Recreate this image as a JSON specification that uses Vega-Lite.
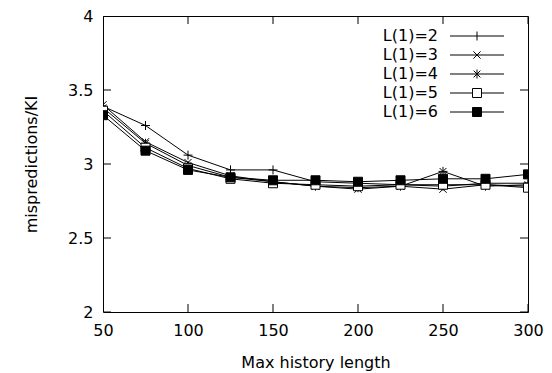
{
  "$schema": "https://vega.github.io/schema/vega-lite/v6.json",
  "width": 425,
  "height": 296,
  "autosize": {"type": "none"},
  "padding": {"left": 103, "top": 16, "right": 24, "bottom": 61},
  "background": "white",
  "config": {
    "view": {"stroke": "black", "strokeWidth": 1},
    "font": "DejaVu Sans",
    "axis": {
      "labelFont": "DejaVu Sans",
      "labelFontSize": 16,
      "labelColor": "black",
      "titleFont": "DejaVu Sans",
      "titleFontSize": 16,
      "titleFontWeight": "normal",
      "titleColor": "black",
      "grid": false,
      "labelFlush": false,
      "labelOverlap": false
    }
  },
  "datasets": {
    "xticks": [
      {"t": 50, "edge": 2}, {"t": 100, "edge": 2}, {"t": 150, "edge": 2}, {"t": 200, "edge": 2}, {"t": 250, "edge": 2}, {"t": 300, "edge": 2},
      {"t": 50, "edge": 4}, {"t": 100, "edge": 4}, {"t": 150, "edge": 4}, {"t": 200, "edge": 4}, {"t": 250, "edge": 4}, {"t": 300, "edge": 4}
    ],
    "yticks": [
      {"t": 2, "edge": 50}, {"t": 2.5, "edge": 50}, {"t": 3, "edge": 50}, {"t": 3.5, "edge": 50}, {"t": 4, "edge": 50},
      {"t": 2, "edge": 300}, {"t": 2.5, "edge": 300}, {"t": 3, "edge": 300}, {"t": 3.5, "edge": 300}, {"t": 4, "edge": 300}
    ],
    "mp": [
      {"len": 50, "mpki": 3.39, "s": "L(1)=2"},
      {"len": 75, "mpki": 3.26, "s": "L(1)=2"},
      {"len": 100, "mpki": 3.06, "s": "L(1)=2"},
      {"len": 125, "mpki": 2.96, "s": "L(1)=2"},
      {"len": 150, "mpki": 2.96, "s": "L(1)=2"},
      {"len": 175, "mpki": 2.88, "s": "L(1)=2"},
      {"len": 200, "mpki": 2.87, "s": "L(1)=2"},
      {"len": 225, "mpki": 2.86, "s": "L(1)=2"},
      {"len": 250, "mpki": 2.85, "s": "L(1)=2"},
      {"len": 275, "mpki": 2.87, "s": "L(1)=2"},
      {"len": 300, "mpki": 2.87, "s": "L(1)=2"},
      {"len": 50, "mpki": 3.40, "s": "L(1)=3"},
      {"len": 75, "mpki": 3.15, "s": "L(1)=3"},
      {"len": 100, "mpki": 3.01, "s": "L(1)=3"},
      {"len": 125, "mpki": 2.92, "s": "L(1)=3"},
      {"len": 150, "mpki": 2.88, "s": "L(1)=3"},
      {"len": 175, "mpki": 2.85, "s": "L(1)=3"},
      {"len": 200, "mpki": 2.83, "s": "L(1)=3"},
      {"len": 225, "mpki": 2.85, "s": "L(1)=3"},
      {"len": 250, "mpki": 2.83, "s": "L(1)=3"},
      {"len": 275, "mpki": 2.86, "s": "L(1)=3"},
      {"len": 300, "mpki": 2.85, "s": "L(1)=3"},
      {"len": 50, "mpki": 3.38, "s": "L(1)=4"},
      {"len": 75, "mpki": 3.14, "s": "L(1)=4"},
      {"len": 100, "mpki": 2.99, "s": "L(1)=4"},
      {"len": 125, "mpki": 2.91, "s": "L(1)=4"},
      {"len": 150, "mpki": 2.88, "s": "L(1)=4"},
      {"len": 175, "mpki": 2.85, "s": "L(1)=4"},
      {"len": 200, "mpki": 2.84, "s": "L(1)=4"},
      {"len": 225, "mpki": 2.85, "s": "L(1)=4"},
      {"len": 250, "mpki": 2.95, "s": "L(1)=4"},
      {"len": 275, "mpki": 2.85, "s": "L(1)=4"},
      {"len": 300, "mpki": 2.86, "s": "L(1)=4"},
      {"len": 50, "mpki": 3.36, "s": "L(1)=5"},
      {"len": 75, "mpki": 3.11, "s": "L(1)=5"},
      {"len": 100, "mpki": 2.97, "s": "L(1)=5"},
      {"len": 125, "mpki": 2.90, "s": "L(1)=5"},
      {"len": 150, "mpki": 2.87, "s": "L(1)=5"},
      {"len": 175, "mpki": 2.86, "s": "L(1)=5"},
      {"len": 200, "mpki": 2.85, "s": "L(1)=5"},
      {"len": 225, "mpki": 2.86, "s": "L(1)=5"},
      {"len": 250, "mpki": 2.86, "s": "L(1)=5"},
      {"len": 275, "mpki": 2.86, "s": "L(1)=5"},
      {"len": 300, "mpki": 2.84, "s": "L(1)=5"},
      {"len": 50, "mpki": 3.33, "s": "L(1)=6"},
      {"len": 75, "mpki": 3.09, "s": "L(1)=6"},
      {"len": 100, "mpki": 2.96, "s": "L(1)=6"},
      {"len": 125, "mpki": 2.91, "s": "L(1)=6"},
      {"len": 150, "mpki": 2.89, "s": "L(1)=6"},
      {"len": 175, "mpki": 2.89, "s": "L(1)=6"},
      {"len": 200, "mpki": 2.88, "s": "L(1)=6"},
      {"len": 225, "mpki": 2.89, "s": "L(1)=6"},
      {"len": 250, "mpki": 2.90, "s": "L(1)=6"},
      {"len": 275, "mpki": 2.90, "s": "L(1)=6"},
      {"len": 300, "mpki": 2.93, "s": "L(1)=6"}
    ]
  },
  "layer": [
    {
      "data": {"name": "mp"},
      "mark": {"type": "line", "color": "black", "strokeWidth": 1, "clip": true},
      "encoding": {
        "x": {"field": "len", "type": "quantitative",
              "scale": {"domain": [50, 300], "nice": false, "zero": false},
              "axis": {"orient": "bottom", "values": [50, 100, 150, 200, 250, 300], "domain": false, "ticks": false, "labelPadding": 10, "title": "Max history length", "titlePadding": 16}},
        "y": {"field": "mpki", "type": "quantitative",
              "scale": {"domain": [2, 4], "nice": false, "zero": false},
              "axis": {"orient": "left", "values": [2, 2.5, 3, 3.5, 4], "format": "~g", "domain": false, "ticks": false, "labelPadding": 10, "title": "mispredictions/KI", "titlePadding": 28}},
        "detail": {"field": "s"}
      }
    },
    {
      "data": {"name": "xticks"},
      "mark": {"type": "tick", "orient": "vertical", "size": 16, "thickness": 1, "color": "black", "opacity": 1, "clip": true},
      "encoding": {
        "x": {"field": "t", "type": "quantitative", "axis": null},
        "y": {"field": "edge", "type": "quantitative", "axis": null}
      }
    },
    {
      "data": {"name": "yticks"},
      "mark": {"type": "tick", "orient": "horizontal", "size": 16, "thickness": 1, "color": "black", "opacity": 1, "clip": true},
      "encoding": {
        "x": {"field": "edge", "type": "quantitative", "axis": null},
        "y": {"field": "t", "type": "quantitative", "axis": null}
      }
    },
    {
      "data": {"name": "mp"},
      "mark": {"type": "point", "filled": false, "stroke": "black", "strokeWidth": 1, "opacity": 1, "clip": true},
      "encoding": {
        "x": {"field": "len", "type": "quantitative", "axis": null},
        "y": {"field": "mpki", "type": "quantitative", "axis": null},
        "size": {"value": 81},
        "shape": {"field": "s", "legend": null,
                  "scale": {"domain": ["L(1)=2", "L(1)=3", "L(1)=4", "L(1)=5", "L(1)=6"],
                            "range": ["M-1,0H1M0,-1V1", "M-0.8,-0.8L0.8,0.8M-0.8,0.8L0.8,-0.8", "M-1,0H1M0,-1V1M-0.75,-0.75L0.75,0.75M-0.75,0.75L0.75,-0.75", "M-1,-1H1V1H-1Z", "M-1,-1H1V1H-1Z"]}},
        "fill": {"field": "s", "legend": null,
                 "scale": {"domain": ["L(1)=2", "L(1)=3", "L(1)=4", "L(1)=5", "L(1)=6"],
                           "range": ["transparent", "transparent", "transparent", "white", "black"]}}
      }
    },
    {
      "data": {"name": "mp"},
      "transform": [{"filter": "false"}],
      "mark": {"type": "point", "filled": false, "strokeWidth": 1, "opacity": 1},
      "encoding": {
        "x": {"field": "len", "type": "quantitative", "axis": null},
        "y": {"field": "mpki", "type": "quantitative", "axis": null},
        "size": {"value": 81},
        "shape": {"field": "s", "type": "nominal",
                  "scale": {"domain": ["L(1)=2", "L(1)=3", "L(1)=4", "L(1)=5", "L(1)=6"],
                            "range": ["M-6,0H6M0,-1V1", "M-6,0H6M-0.8,-0.8L0.8,0.8M-0.8,0.8L0.8,-0.8", "M-6,0H6M0,-1V1M-0.75,-0.75L0.75,0.75M-0.75,0.75L0.75,-0.75", "M-6,0H-1M1,0H6M-1,-1H1V1H-1Z", "M-6,0H6M-1,-1H1V1H-1Z"]},
                  "legend": {"orient": "none", "legendX": 366, "legendY": 12, "title": null, "padding": 0,
                             "labelAlign": "right", "labelOffset": -47, "labelFontSize": 16, "labelColor": "black", "labelFont": "DejaVu Sans",
                             "rowPadding": 3, "symbolStrokeWidth": 1, "symbolSize": 81}},
        "fill": {"field": "s", "type": "nominal",
                 "scale": {"domain": ["L(1)=2", "L(1)=3", "L(1)=4", "L(1)=5", "L(1)=6"],
                           "range": ["transparent", "transparent", "transparent", "white", "black"]}},
        "stroke": {"field": "s", "type": "nominal",
                   "scale": {"domain": ["L(1)=2", "L(1)=3", "L(1)=4", "L(1)=5", "L(1)=6"],
                             "range": ["black", "black", "black", "black", "black"]}}
      }
    }
  ],
  "resolve": {
    "scale": {"shape": "independent", "fill": "independent", "stroke": "independent"},
    "axis": {"x": "independent", "y": "independent"}
  }
}
